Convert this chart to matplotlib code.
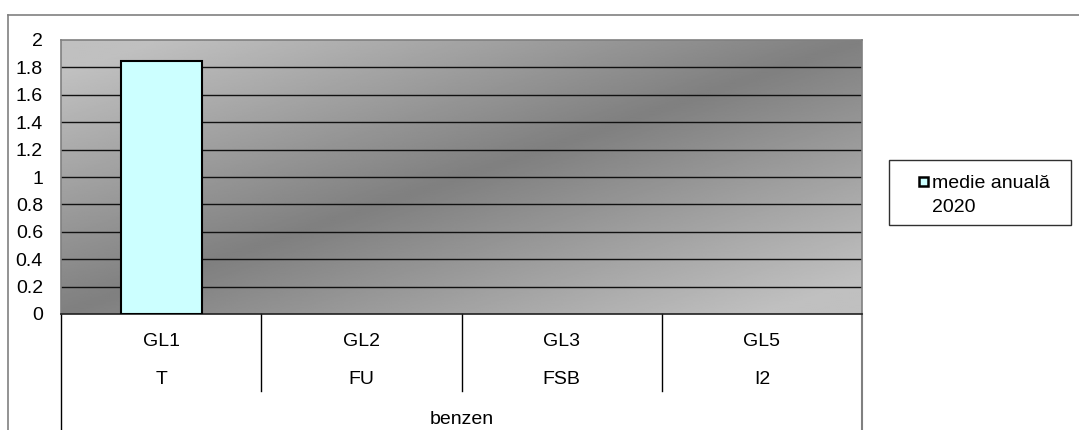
import numpy as np
import matplotlib
matplotlib.use("Agg")
from matplotlib import pyplot as plt
from matplotlib.patches import Rectangle
from matplotlib.lines import Line2D
import matplotlib.transforms as mtransforms

# chart data
stations = ["GL1", "GL2", "GL3", "GL5"]
sites = ["T", "FU", "FSB", "I2"]
pollutant = "benzen"
annual_mean = [1.85, None, None, None]
series_label = ["medie anuală", "2020"]
yticks = [0, 0.2, 0.4, 0.6, 0.8, 1, 1.2, 1.4, 1.6, 1.8, 2]

plt.rcParams["font.family"] = ["Liberation Sans", "DejaVu Sans"]
FS = 14

W, H = 1079, 430
fig = plt.figure(figsize=(W / 100, H / 100), dpi=100)
fig.patch.set_facecolor("white")


def px(x0, y0, w, h):
    # pixel box (top-left origin) -> figure fraction rect
    return [x0 / W, (H - y0 - h) / H, w / W, h / H]


ax = fig.add_axes(px(61, 40, 801, 274))

# diagonal grey gradient: light corners top-left / bottom-right, dark band on the diagonal
gx, gy = np.meshgrid(np.linspace(0, 1, 400), np.linspace(1, 0, 200))
t = np.abs(gx - gy)
shade = 0.50 + 0.25 * np.clip(t * 1.15, 0, 1)
ax.imshow(shade, cmap="gray", vmin=0, vmax=1, extent=[0, 1, 0, 1],
          transform=ax.transAxes, aspect="auto", zorder=0,
          interpolation="bilinear")

n = len(stations)
ax.set_xlim(-0.5, n - 0.5)
ax.set_ylim(0, 2)

for v in yticks[1:-1]:
    ax.axhline(v, color="#111111", lw=1.0, zorder=1)

xs = [i for i, v in enumerate(annual_mean) if v is not None]
vals = [annual_mean[i] for i in xs]
ax.bar(xs, vals, width=0.405, color="#ccffff", edgecolor="black",
       linewidth=1.5, zorder=3)

ax.set_yticks(yticks)
ax.set_yticklabels([f"{v:g}" for v in yticks])
ax.tick_params(axis="y", length=0, pad=13, labelsize=FS)
ax.set_xticks([])

for side in ["left", "top", "right"]:
    ax.spines[side].set_color("#808080")
    ax.spines[side].set_linewidth(1.2)
ax.spines["bottom"].set_color("#202020")
ax.spines["bottom"].set_linewidth(1.2)

# multi-level category axis below the plot
trans = mtransforms.blended_transform_factory(ax.transData, ax.transAxes)
ah = 274.0
row1 = -26 / ah
row2 = -64 / ah
row3 = -104 / ah
div_end = -77 / ah
bottom_end = -118 / ah
for b in np.arange(0.5, n - 1, 1.0):
    ax.add_line(Line2D([b, b], [0, div_end], transform=trans, color="black",
                       lw=1.0, clip_on=False))
ax.add_line(Line2D([-0.5, -0.5], [0, bottom_end], transform=trans,
                   color="black", lw=1.0, clip_on=False))
ax.add_line(Line2D([n - 0.5, n - 0.5], [0, bottom_end], transform=trans,
                   color="#808080", lw=1.5, clip_on=False))
for i, (st, si) in enumerate(zip(stations, sites)):
    ax.text(i, row1, st, transform=trans, ha="center", va="center_baseline",
            fontsize=FS)
    ax.text(i, row2, si, transform=trans, ha="center", va="center_baseline",
            fontsize=FS)
ax.text((n - 1) / 2, row3, pollutant, transform=trans, ha="center",
        va="center_baseline", fontsize=FS)

# outer chart frame (left and top edges)
fig.add_artist(Line2D([8 / W, 8 / W], [0, (H - 15) / H], color="#808080",
                      lw=1.2, transform=fig.transFigure))
fig.add_artist(Line2D([8 / W, 1], [(H - 15) / H, (H - 15) / H],
                      color="#808080", lw=1.2, transform=fig.transFigure))

# legend
fig.add_artist(Rectangle((889 / W, (H - 225) / H), 182 / W, 65 / H,
                         transform=fig.transFigure, facecolor="white",
                         edgecolor="#303030", lw=1.0))
fig.add_artist(Rectangle((918.5 / W, (H - 186.5) / H), 9 / W, 9 / H,
                         transform=fig.transFigure, facecolor="#ccffff",
                         edgecolor="black", lw=1.8))
fig.text(932 / W, (H - 188) / H, series_label[0], ha="left", va="baseline",
         fontsize=FS)
fig.text(932 / W, (H - 212) / H, series_label[1], ha="left", va="baseline",
         fontsize=FS)

fig.savefig("out.png", dpi=100)
